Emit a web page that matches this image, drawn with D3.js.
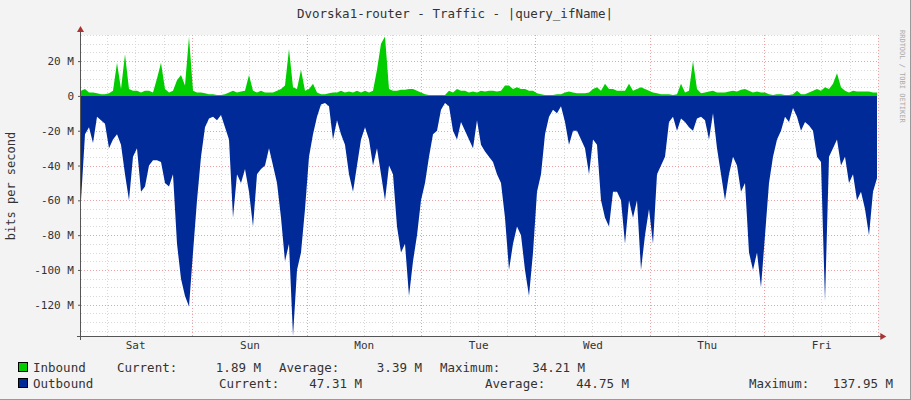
<!DOCTYPE html>
<html><head><meta charset="utf-8">
<script src="https://cdn.jsdelivr.net/npm/d3@7"></script>
<style>body{margin:0;background:#f3f3f3}svg{display:block}text{font-family:"DejaVu Sans Mono",monospace;fill:#333}</style>
</head><body><svg id="c" width="911" height="400"></svg>
<script>
const title = "Dvorska1-router - Traffic - |query_ifName|";
const dayLabels = ["Sat","Sun","Mon","Tue","Wed","Thu","Fri"];
const yTicks = [20,0,-20,-40,-60,-80,-100,-120];
// Outbound (M bits/s), sampled evenly across the period
const outbound = [60,22,18,27,12,14,16,30,25,22,28,45,60,35,30,55,52,40,37,37,38,50,52,45,85,105,115,121,90,60,35,18,13,12,14,11,18,25,70,45,50,42,55,75,45,42,40,30,40,50,70,95,85,137.95,100,90,65,35,22,12,5,4,6,25,14,22,28,
45,55,40,25,18,25,40,30,45,60,40,45,75,90,85,115,95,80,60,50,35,22,20,8,4,6,20,25,15,20,25,30,14,28,32,35,38,45,50,70,100,85,75,80,100,115,90,55,45,22,12,8,10,6,15,28,20,20,25,30,45,25,28,60,70,
75,55,55,60,85,60,70,60,100,80,65,85,45,40,35,15,12,20,13,15,18,20,13,12,14,25,10,30,45,60,45,35,40,55,50,90,100,90,110,80,50,35,25,20,12,15,7,12,20,15,17,20,35,38,118,35,30,25,40,35,50,45,60,55,65,80,55,47.31];
// Inbound (M bits/s)
const inbound = [3,4,2,2,1.5,1,1,1.5,3,19,4,24,4,3,3,2,3,3,2,10,19,4,2,3,9,12,6,34,3,2,2,1.5,1,1,0.5,0.5,1,2,3,2,2.5,3,12,3,2,3,2,2,2,3,4,6,27,5,4,15,3,4,7,2,1,1,1.5,2,2,
3,2,2.5,2,3,2,3,2,3,15,30,34.21,4,3,3,3.5,3.5,4,4,3,2,1,0.5,0.5,0.5,0.5,0.5,3,2,4,3,3,2,2.5,2,3,2.5,3,3,2.5,3,6,6,4,5,4,4,3,3,1.5,1,0.5,0.5,0.5,1,1,2,2.5,2,1.5,1.5,1.5,2,4,5,3,7,
4,4,3,3,3,7,3,4,5,4,3,2,1.5,1,1,1,0.5,1,7,2,3,20,4,1.5,2,2.5,3,2,2,2,2.5,3,2.5,3.5,4,3,2,2.5,2,2,1,0.5,1,1,0.5,0.5,1,3,1,1,2,3,4,3,5,4,7,13,5,3,2,3,2.5,2.5,2.5,2.5,2,1.89];
const legend = [
  {name:"Inbound", color:"#00cc00", cur:"1.89 M", avg:"3.39 M", max:"34.21 M"},
  {name:"Outbound", color:"#002a97", cur:"47.31 M", avg:"44.75 M", max:"137.95 M"}
];

const svg = d3.select("#c");
const L=81, R=878.3, T=35, B=336;
svg.append("rect").attr("width",911).attr("height",400).attr("fill","#f3f3f3");
svg.append("line").attr("x1",910.5).attr("x2",910.5).attr("y1",0).attr("y2",400).attr("stroke","#999");
svg.append("line").attr("x1",0).attr("x2",911).attr("y1",399.5).attr("y2",399.5).attr("stroke","#999");
svg.append("rect").attr("x",L).attr("y",T).attr("width",R-L).attr("height",B-T).attr("fill","#fff");

const y = d3.scaleLinear().domain([-137.95,35]).range([B,T]);
const t = d3.scaleLinear().domain([-0.9735,6]).range([L,R]); // days
const xo = d3.scaleLinear().domain([0,outbound.length-1]).range([L,877]);
const xi = d3.scaleLinear().domain([0,inbound.length-1]).range([L,877]);

const g = svg.append("g");
// grid
for(let v=-135; v<=35; v+=5){
  const major = v%20===0;
  g.append("line").attr("x1",L).attr("x2",R).attr("y1",Math.round(y(v))+.5).attr("y2",Math.round(y(v))+.5)
   .attr("stroke",major?"#f0a0a0":"#d8d8d8").attr("stroke-dasharray","1,2");
}
for(let d=-0.75; d<=6; d+=0.25){
  const major = Math.abs(d-Math.round(d))<1e-6;
  g.append("line").attr("y1",T).attr("y2",B).attr("x1",Math.round(t(d))+.5).attr("x2",Math.round(t(d))+.5)
   .attr("stroke",major?"#f0a0a0":"#d8d8d8").attr("stroke-dasharray","1,2");
}
// areas
svg.append("path").datum(inbound).attr("fill","#00cc00")
  .attr("d",d3.area().x((d,i)=>xi(i)).y0(y(0)).y1(d=>y(d)));
svg.append("path").datum(outbound).attr("fill","#002a97")
  .attr("d",d3.area().x((d,i)=>xo(i)).y0(y(0)).y1(d=>y(-d)));

// axes
svg.append("line").attr("x1",L-0.5).attr("x2",L-0.5).attr("y1",28).attr("y2",B+4).attr("stroke","#555");
svg.append("line").attr("x1",L-4).attr("x2",R+4).attr("y1",B+0.5).attr("y2",B+0.5).attr("stroke","#555");
svg.append("path").attr("d",`M${L-4},${32}L${L-0.5},${26}L${L+3},${32}Z`).attr("fill","#a33");
svg.append("path").attr("d",`M${R+2},${B-3}L${R+8},${B+0.5}L${R+2},${B+4}Z`).attr("fill","#a33");

const yAxis = svg.append("g").attr("transform",`translate(${L},0)`)
  .call(d3.axisLeft(y).tickValues(yTicks).tickSize(3).tickFormat(d=>d===0?"0":d+" M"));
yAxis.select(".domain").remove();
yAxis.selectAll("text").attr("font-size",11).attr("x",-7).style("font-family","DejaVu Sans Mono").attr("fill","#333");
yAxis.selectAll("line").attr("stroke","#555");

const xAxis = svg.append("g").attr("transform",`translate(0,${B})`)
  .call(d3.axisBottom(t).tickValues(d3.range(-0.5,6.5,1)).tickSize(0).tickFormat((d,i)=>dayLabels[i]));
xAxis.select(".domain").remove();
xAxis.selectAll("text").attr("font-size",11).attr("dy",".9em").style("font-family","DejaVu Sans Mono").attr("fill","#333");

svg.append("text").attr("x",455).attr("y",18).attr("text-anchor","middle").attr("font-size",12.5).text(title);
svg.append("text").attr("transform","translate(15,186) rotate(-90)").attr("text-anchor","middle").attr("font-size",12).text("bits per second");
svg.append("text").attr("transform","translate(900,30) rotate(90)").attr("font-size",7).attr("fill","#aaa").style("fill","#aaa").text("RRDTOOL / TOBI OETIKER");

// legend
const lp = [
  {y:372, cx:117, cv:261, ax:279, av:422, mx:440, mv:585},
  {y:388, cx:219, cv:362, ax:485, av:629, mx:749, mv:893}
];
legend.forEach((s,i)=>{
  const p=lp[i];
  svg.append("rect").attr("x",18.5).attr("y",p.y-9.5).attr("width",9).attr("height",9).attr("fill",s.color).attr("stroke","#000");
  const txt=(x,str,anchor)=>svg.append("text").attr("x",x).attr("y",p.y).attr("font-size",12.5).attr("text-anchor",anchor||"start").text(str);
  txt(33,s.name); txt(p.cx,"Current:"); txt(p.cv,s.cur,"end");
  txt(p.ax,"Average:"); txt(p.av,s.avg,"end"); txt(p.mx,"Maximum:"); txt(p.mv,s.max,"end");
});
</script></body></html>
